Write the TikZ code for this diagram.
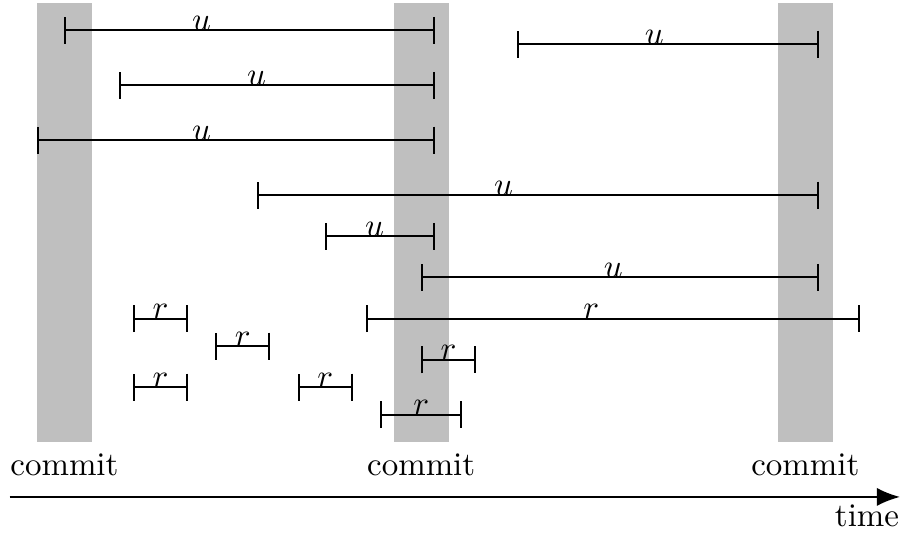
\documentclass[tikz,border=0pt]{standalone}
\usetikzlibrary{arrows.meta}

\begin{document}
\begin{tikzpicture}[x=0.2926cm, y=0.2926cm, semithick,
    epoch/.style={fill=lightgray},
    span/.style={{Bar[width=8.2pt]}-{Bar[width=8.2pt]}},
    lbl/.style={anchor=base, inner sep=0pt}]
  \useasboundingbox (-1.35,-3.28) rectangle (31.45,16.11);

  % commit windows
  \fill[epoch] (0,0) rectangle (2,16);
  \fill[epoch] (13,0) rectangle (15,16);
  \fill[epoch] (27,0) rectangle (29,16);
  \node[below] (c1) at (1,0) {commit};
  \node[below] (c2) at (14,0) {commit};
  \node[below] (c3) at (28,0) {commit};

  % updates
  \draw[span] (1,15) -- (14.5,15);
  \node[lbl] (u1) at (6,15) {$u$};
  \draw[span] (17.5,14.5) -- (28.5,14.5);
  \node[lbl] (u2) at (22.5,14.5) {$u$};
  \draw[span] (3,13) -- (14.5,13);
  \node[lbl] (u3) at (8,13) {$u$};
  \draw[span] (0,11) -- (14.5,11);
  \node[lbl] (u4) at (6,11) {$u$};
  \draw[span] (8,9) -- (28.5,9);
  \node[lbl] (u5) at (17,9) {$u$};
  \draw[span] (10.5,7.5) -- (14.5,7.5);
  \node[lbl] (u6) at (12.3,7.5) {$u$};
  \draw[span] (14,6) -- (28.5,6);
  \node[lbl] (u7) at (21,6) {$u$};

  % reads
  \draw[span] (3.5,4.5) -- (5.5,4.5);
  \node[lbl] (r1) at (4.5,4.5) {$r$};
  \draw[span] (12,4.5) -- (30,4.5);
  \node[lbl] (r2) at (20.2,4.5) {$r$};
  \draw[span] (6.5,3.5) -- (8.5,3.5);
  \node[lbl] (r3) at (7.5,3.5) {$r$};
  \draw[span] (14,3) -- (16,3);
  \node[lbl] (r4) at (15,3) {$r$};
  \draw[span] (3.5,2) -- (5.5,2);
  \node[lbl] (r5) at (4.5,2) {$r$};
  \draw[span] (9.5,2) -- (11.5,2);
  \node[lbl] (r6) at (10.5,2) {$r$};
  \draw[span] (12.5,1) -- (15.5,1);
  \node[lbl] (r7) at (14,1) {$r$};

  % time axis
  \coordinate (t0) at (-1,-2);
  \coordinate (t1) at (31.45,-2);
  \draw[-{Latex[length=7pt,width=5.5pt]}] (t0) -- (t1)
    node[below left, inner xsep=0pt, inner ysep=2pt] (time) {time};
\end{tikzpicture}
\end{document}
